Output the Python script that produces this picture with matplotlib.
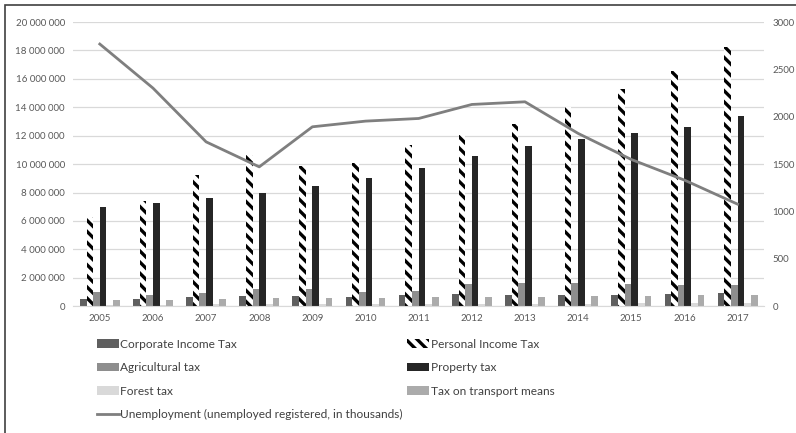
import numpy as np
import matplotlib.pyplot as plt
import matplotlib.ticker as mticker
from matplotlib.patches import Rectangle

plt.rcParams['font.family'] = ['Lato', 'DejaVu Sans']
plt.rcParams['hatch.linewidth'] = 2.4

years = ['2005', '2006', '2007', '2008', '2009', '2010', '2011',
         '2012', '2013', '2014', '2015', '2016', '2017']

corporate = [470000, 520000, 660000, 710000, 710000, 660000, 780000,
             830000, 780000, 750000, 780000, 830000, 900000]
personal = [6290000, 7370000, 9260000, 10670000, 9840000, 10080000, 11380000,
            12080000, 12840000, 14010000, 15300000, 16550000, 18280000]
agricultural = [970000, 800000, 940000, 1220000, 1220000, 1010000, 1060000,
                1530000, 1650000, 1650000, 1580000, 1480000, 1480000]
property_tax = [6970000, 7260000, 7580000, 8000000, 8430000, 9020000, 9730000,
                10600000, 11300000, 11800000, 12200000, 12600000, 13360000]
forest = [100000, 110000, 120000, 130000, 130000, 140000, 150000,
          160000, 170000, 180000, 190000, 230000, 250000]
transport = [420000, 420000, 490000, 540000, 540000, 590000, 610000,
             660000, 660000, 710000, 710000, 750000, 780000]
unemployment = [2768, 2303, 1735, 1471, 1894, 1954, 1982,
                2130, 2158, 1824, 1549, 1331, 1077]

series = [
    ('Corporate Income Tax', corporate, '#5f5f5f', None),
    ('Personal Income Tax', personal, 'white', '\\\\\\'),
    ('Agricultural tax', agricultural, '#8e8e8e', None),
    ('Property tax', property_tax, '#262626', None),
    ('Forest tax', forest, '#d9d9d9', None),
    ('Tax on transport means', transport, '#ababab', None),
]

fig = plt.figure(figsize=(7.96, 4.33), dpi=100)
ax = fig.add_axes([0.092, 0.293, 0.868, 0.656])

x = np.arange(len(years))
w = 0.125
bars = []
for i, (name, vals, col, hatch) in enumerate(series):
    if hatch:
        b = ax.bar(x + (i - 2.5) * w, vals, w, color=col, edgecolor='black',
                   linewidth=0, hatch=hatch, label=name, zorder=2)
    else:
        b = ax.bar(x + (i - 2.5) * w, vals, w, color=col, linewidth=0,
                   label=name, zorder=2)
    bars.append(b)

ax.set_xlim(-0.5, len(years) - 0.5)
ax.set_ylim(0, 20000000)
ax.set_yticks(np.arange(0, 20000001, 2000000))
ax.yaxis.set_major_formatter(mticker.FuncFormatter(lambda v, p: f'{int(v):,}'.replace(',', ' ')))
ax.set_xticks(x)
ax.set_xticklabels(years)
ax.grid(axis='y', color='#d9d9d9', linewidth=0.9, zorder=0)
ax.tick_params(length=0, labelsize=7, colors='#595959', pad=6)
for s in ax.spines.values():
    s.set_visible(False)
ax.spines['bottom'].set_visible(True)
ax.spines['bottom'].set_color('#d9d9d9')

ax2 = ax.twinx()
line, = ax2.plot(x, unemployment, color='#7f7f7f', linewidth=2,
                 label='Unemployment (unemployed registered, in thousands)', zorder=3)
ax2.set_ylim(0, 3000)
ax2.set_yticks(np.arange(0, 3001, 500))
ax2.tick_params(length=0, labelsize=7, colors='#595959', pad=6)
for s in ax2.spines.values():
    s.set_visible(False)

# two legend columns, filled row by row
order = [bars[0], bars[2], bars[4], line, bars[1], bars[3], bars[5]]
leg = fig.legend(order, [h.get_label() for h in order],
                 ncol=2, loc='upper left', bbox_to_anchor=(0.114, 0.232),
                 frameon=False, fontsize=8.6, handlelength=1.85, handleheight=0.7,
                 handletextpad=0.1, columnspacing=0.4, labelspacing=1.05,
                 labelcolor='#404040', borderpad=0)

# chart frame
fig.patches.append(Rectangle((5 / 796, -0.1), 1.2, 1 - 5 / 433 + 0.1,
                             transform=fig.transFigure, fill=False,
                             edgecolor='#404040', linewidth=1.2))

fig.savefig('out.png', dpi=100)
